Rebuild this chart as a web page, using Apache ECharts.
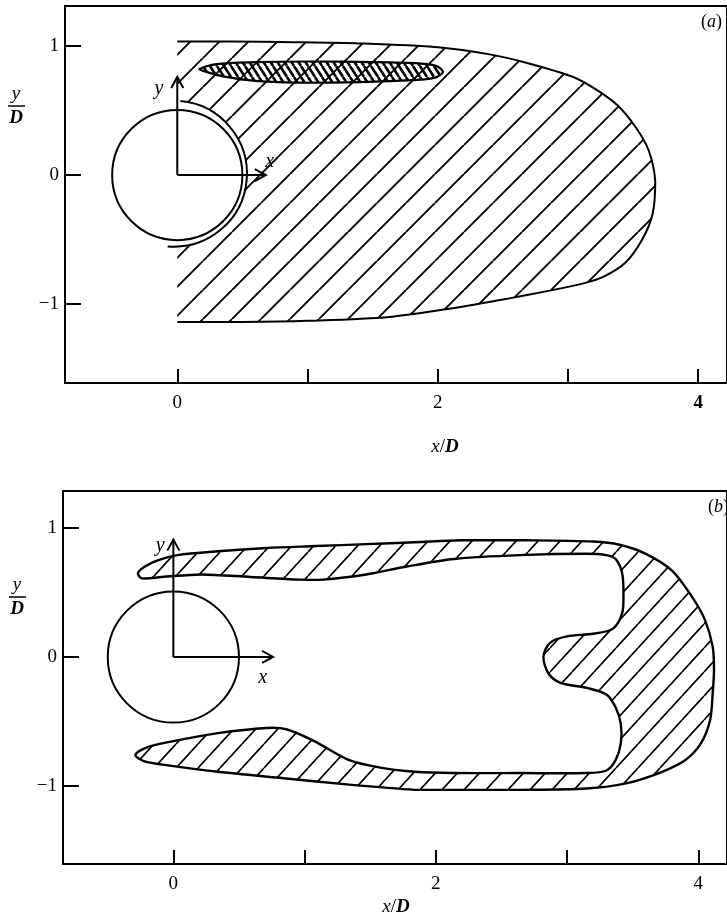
<!DOCTYPE html>
<html>
<head>
<meta charset="utf-8">
<script src="https://cdn.jsdelivr.net/npm/echarts@6/dist/echarts.min.js"></script>
<style>
  html, body { margin: 0; padding: 0; background: #fff; }
  #chart { width: 727px; height: 920px; }
</style>
</head>
<body>
<div id="chart"></div>
<script>
// ticks / labels
const xTicks = [0, 1, 2, 3, 4];
const xTickLabels = [0, 2, 4];
const yTicks = [-1, 0, 1];

// (a) hatched region, traced from top-left, round the tip, to bottom-left
const wakeA = [
  [0.0, 1.035], [0.4, 1.035], [0.9, 1.03], [1.4, 1.02], [2.0, 0.99],
  [2.4, 0.935], [2.7, 0.865], [3.04, 0.76], [3.22, 0.66], [3.38, 0.54],
  [3.52, 0.37], [3.62, 0.19], [3.67, -0.05], [3.65, -0.3], [3.57, -0.5],
  [3.44, -0.68], [3.27, -0.79], [3.12, -0.84], [2.84, -0.9], [2.53, -0.96],
  [2.13, -1.03], [1.63, -1.1], [1.0, -1.13], [0.5, -1.14], [0.0, -1.14]
];
// (a) dense cross-hatched streak
const streakA = [
  [0.17, 0.82], [0.3, 0.86], [0.6, 0.875], [1.0, 0.88], [1.5, 0.875],
  [1.85, 0.865], [1.99, 0.845], [2.04, 0.80], [1.98, 0.755], [1.8, 0.735],
  [1.4, 0.72], [1.0, 0.715], [0.6, 0.73], [0.35, 0.765], [0.22, 0.80]
];
// (b) horseshoe region: outer edge, lower tip, inner edge back to upper tip
const wakeB = [
  [-0.27, 0.65], [-0.22, 0.70], [-0.12, 0.75], [0.03, 0.79], [0.34, 0.82],
  [0.71, 0.845], [1.09, 0.86], [1.47, 0.875], [1.84, 0.89], [2.19, 0.905],
  [2.69, 0.905], [3.2, 0.895], [3.4, 0.87], [3.6, 0.8], [3.8, 0.67],
  [3.95, 0.47], [4.05, 0.29], [4.11, 0.08], [4.12, -0.1], [4.11, -0.28],
  [4.09, -0.49], [4.02, -0.67], [3.9, -0.8], [3.7, -0.9], [3.45, -0.98],
  [3.15, -1.02], [2.64, -1.03], [2.02, -1.03], [1.84, -1.03], [1.34, -0.99],
  [0.84, -0.94], [0.34, -0.89], [-0.04, -0.84], [-0.22, -0.81], [-0.29, -0.76],
  [-0.2, -0.70], [-0.04, -0.66], [0.34, -0.59], [0.71, -0.55], [0.86, -0.56],
  [1.07, -0.65], [1.34, -0.80], [1.59, -0.86], [1.84, -0.89], [2.14, -0.90],
  [2.64, -0.90], [3.15, -0.90], [3.3, -0.88], [3.37, -0.8], [3.41, -0.67],
  [3.41, -0.52], [3.37, -0.39], [3.3, -0.29], [3.15, -0.24], [2.95, -0.2],
  [2.86, -0.13], [2.82, 0.0], [2.87, 0.11], [3.0, 0.16], [3.2, 0.18],
  [3.35, 0.22], [3.42, 0.34], [3.43, 0.49], [3.42, 0.65], [3.37, 0.76],
  [3.3, 0.79], [3.15, 0.80], [2.64, 0.79], [2.14, 0.76], [1.77, 0.70],
  [1.47, 0.64], [1.14, 0.60], [0.96, 0.60], [0.59, 0.62], [0.21, 0.64],
  [-0.09, 0.62], [-0.24, 0.61]
];
// cylinder: cx, cy, r
const cylinder = [[0, 0, 0.5]];
// (a) shield arc: cx, cy, r, from deg, to deg
const shieldA = [[-0.025, 0.01, 0.56, 85, -95]];
// frame arrows: x0, y0, x1, y1
const arrowsA = [[0, 0, 0, 0.76], [0, 0, 0.68, 0]];
const arrowsB = [[0, 0, 0, 0.91], [0, 0, 0.76, 0]];
const letterNames = ['y', 'x'];
const lettersA = [[-0.14, 0.67], [0.71, 0.10]];
const lettersB = [[-0.10, 0.86], [0.68, -0.16]];

const serif = '"Liberation Serif", "DejaVu Serif", serif';

function hatch(w, h, lw, up) {
  const c = document.createElement('canvas');
  c.width = w; c.height = h;
  const g = c.getContext('2d');
  g.strokeStyle = '#000';
  g.lineWidth = lw;
  g.beginPath();
  for (let k = -1; k <= 1; k++) {
    if (up) { g.moveTo(k * w, h); g.lineTo(k * w + w, 0); }
    else { g.moveTo(k * w, 0); g.lineTo(k * w + w, h); }
  }
  g.stroke();
  return { image: c, repeat: 'repeat' };
}
const hatchA = hatch(29, 29, 1.9, true);
const hatchB = hatch(22, 24, 1.7, true);
const hatchDense = hatch(7, 11, 2.6, false);

function outline(idx, pts, closed, style, z, smooth) {
  return {
    type: 'custom', xAxisIndex: idx, yAxisIndex: idx, silent: true, z: z,
    data: pts,
    renderItem: function (params, api) {
      if (params.dataIndex !== 0) return null;
      const px = pts.map(p => api.coord(p));
      const xs = px.map(p => p[0]), ys = px.map(p => p[1]);
      const box = [[Math.min(...xs), Math.min(...ys)], [Math.max(...xs), Math.max(...ys)]];
      return {
        type: closed ? 'polygon' : 'polyline',
        shape: { points: px, smooth: smooth, smoothConstraint: box },
        style: style
      };
    }
  };
}

function circles(idx, data, fill, z) {
  return {
    type: 'custom', xAxisIndex: idx, yAxisIndex: idx, silent: true, z: z,
    data: data,
    renderItem: function (params, api) {
      const c = api.coord([api.value(0), api.value(1)]);
      const r = api.size([api.value(2), 0])[0];
      return {
        type: 'circle', shape: { cx: c[0], cy: c[1], r: r },
        style: fill ? { fill: '#fff', stroke: null } : { fill: '#fff', stroke: '#000', lineWidth: 2 }
      };
    }
  };
}

function arcs(idx, data, z) {
  return {
    type: 'custom', xAxisIndex: idx, yAxisIndex: idx, silent: true, z: z,
    data: data,
    renderItem: function (params, api) {
      const c = api.coord([api.value(0), api.value(1)]);
      const r = api.size([api.value(2), 0])[0];
      return {
        type: 'arc',
        shape: { cx: c[0], cy: c[1], r: r,
          startAngle: -api.value(3) * Math.PI / 180,
          endAngle: -api.value(4) * Math.PI / 180, clockwise: true },
        style: { stroke: '#000', fill: null, lineWidth: 2 }
      };
    }
  };
}

function arrows(idx, data, z) {
  return {
    type: 'custom', xAxisIndex: idx, yAxisIndex: idx, silent: true, z: z,
    data: data,
    renderItem: function (params, api) {
      const a = api.coord([api.value(0), api.value(1)]);
      const b = api.coord([api.value(2), api.value(3)]);
      const dx = b[0] - a[0], dy = b[1] - a[1], L = Math.hypot(dx, dy);
      const ux = dx / L, uy = dy / L, hl = 11, hw = 6;
      const h1 = [b[0] - ux * hl - uy * hw, b[1] - uy * hl + ux * hw];
      const h2 = [b[0] - ux * hl + uy * hw, b[1] - uy * hl - ux * hw];
      return {
        type: 'group',
        children: [
          { type: 'line', shape: { x1: a[0], y1: a[1], x2: b[0], y2: b[1] },
            style: { stroke: '#000', lineWidth: 2 } },
          { type: 'polyline', shape: { points: [h1, b, h2] },
            style: { stroke: '#000', fill: null, lineWidth: 2 } }
        ]
      };
    }
  };
}

function letters(idx, data, z) {
  return {
    type: 'custom', xAxisIndex: idx, yAxisIndex: idx, silent: true, z: z,
    data: data,
    renderItem: function (params, api) {
      const p = api.coord([api.value(0), api.value(1)]);
      return {
        type: 'text', x: p[0], y: p[1],
        style: { text: letterNames[params.dataIndex], font: 'italic 20px ' + serif,
          fill: '#000', align: 'center', verticalAlign: 'middle' }
      };
    }
  };
}

function xAx(grid, min, max, boldFour) {
  return {
    type: 'value', gridIndex: grid, min: min, max: max,
    splitLine: { show: false },
    axisLine: { show: true, onZero: false, lineStyle: { color: '#000', width: 2 } },
    axisTick: { show: true, inside: true, length: 14, customValues: xTicks,
      lineStyle: { color: '#000', width: 2 } },
    axisLabel: {
      customValues: xTickLabels, margin: 11, color: '#000',
      fontFamily: serif, fontSize: 19,
      formatter: v => (boldFour && v === 4) ? '{b|4}' : String(v),
      rich: { b: { fontWeight: 'bold', fontFamily: serif, fontSize: 19, color: '#000' } }
    }
  };
}
function yAx(grid, min, max) {
  return {
    type: 'value', gridIndex: grid, min: min, max: max,
    splitLine: { show: false },
    axisLine: { show: true, onZero: false, lineStyle: { color: '#000', width: 2 } },
    axisTick: { show: true, inside: true, length: 16, customValues: yTicks,
      lineStyle: { color: '#000', width: 2 } },
    axisLabel: {
      customValues: yTicks, margin: 6, color: '#000',
      fontFamily: serif, fontSize: 19,
      formatter: v => v < 0 ? '\u2212' + (-v) : String(v)
    }
  };
}

function fraction(cx, cy) {
  return [
    { type: 'text', x: cx, y: cy - 12,
      style: { text: 'y', font: 'italic 19px ' + serif, fill: '#000', align: 'center', verticalAlign: 'middle' } },
    { type: 'line', shape: { x1: cx - 8, y1: cy, x2: cx + 9, y2: cy },
      style: { stroke: '#000', lineWidth: 1.5 } },
    { type: 'text', x: cx, y: cy + 12,
      style: { text: 'D', font: 'italic bold 19px ' + serif, fill: '#000', align: 'center', verticalAlign: 'middle' } }
  ];
}
function xName(cx, cy) {
  return { type: 'text', x: cx, y: cy,
    style: { text: '{i|x}{n|/}{b|D}', align: 'center', verticalAlign: 'middle',
      rich: {
        i: { fontStyle: 'italic', fontFamily: serif, fontSize: 19, fill: '#000' },
        n: { fontFamily: serif, fontSize: 19, fill: '#000' },
        b: { fontStyle: 'italic', fontWeight: 'bold', fontFamily: serif, fontSize: 19, fill: '#000' }
      } } };
}
function panelTag(cx, cy, letter) {
  return { type: 'text', x: cx, y: cy,
    style: { text: '{n|(}{i|' + letter + '}{n|)}', align: 'right', verticalAlign: 'middle',
      rich: {
        i: { fontStyle: 'italic', fontFamily: serif, fontSize: 18, fill: '#000' },
        n: { fontFamily: serif, fontSize: 18, fill: '#000' }
      } } };
}

const chart = echarts.init(document.getElementById('chart'), null, { renderer: 'canvas' });
chart.setOption({
  animation: false,
  backgroundColor: '#fff',
  grid: [
    { left: 65, top: 6, width: 672, height: 377, show: true, borderColor: '#000', borderWidth: 2 },
    { left: 63, top: 491, width: 674, height: 373, show: true, borderColor: '#000', borderWidth: 2 }
  ],
  xAxis: [xAx(0, -0.862, 4.221, true), xAx(1, -0.841, 4.219, false)],
  yAxis: [yAx(0, -1.612, 1.31), yAx(1, -1.605, 1.287)],
  series: [
    outline(0, wakeA, true, { fill: hatchA, stroke: null }, 2, 0.3),
    outline(0, wakeA, false, { fill: null, stroke: '#000', lineWidth: 2 }, 3, 0.3),
    outline(0, streakA, true, { fill: hatchDense, stroke: '#000', lineWidth: 2.2 }, 4, 0.3),
    circles(0, shieldA, true, 5),
    circles(0, cylinder, false, 6),
    arcs(0, shieldA, 6),
    arrows(0, arrowsA, 7),
    letters(0, lettersA, 8),
    outline(1, wakeB, true, { fill: hatchB, stroke: '#000', lineWidth: 2.4 }, 2, 0.3),
    circles(1, cylinder, false, 6),
    arrows(1, arrowsB, 7),
    letters(1, lettersB, 8)
  ],
  graphic: [].concat(
    fraction(16, 106),
    fraction(17, 597),
    [xName(445, 447), xName(396, 907), panelTag(722, 22, 'a'), panelTag(729, 507, 'b')]
  )
});
</script>
</body>
</html>
